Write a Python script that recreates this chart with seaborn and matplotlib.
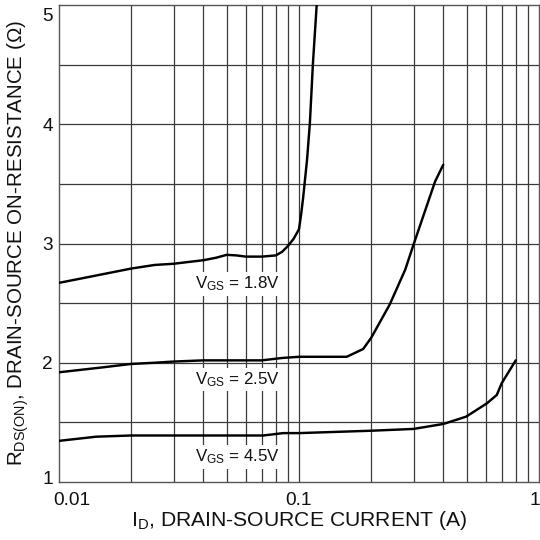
import numpy as np
import pandas as pd
import matplotlib
matplotlib.use("Agg")
import matplotlib.pyplot as plt
import matplotlib.transforms as mtransforms
import seaborn as sns

# On-resistance vs drain current for three gate voltages
id_18 = [0.01, 0.015, 0.02, 0.025, 0.03, 0.04, 0.045, 0.05, 0.055, 0.06, 0.07,
         0.08, 0.085, 0.09, 0.095, 0.1, 0.102, 0.104, 0.108, 0.111, 0.1143, 0.1185]
r_18 = [2.67, 2.74, 2.79, 2.82, 2.83, 2.86, 2.88, 2.905, 2.90, 2.89, 2.89,
        2.90, 2.93, 2.98, 3.04, 3.12, 3.24, 3.38, 3.70, 4.01, 4.51, 5.00]

id_25 = [0.01, 0.015, 0.02, 0.025, 0.03, 0.04, 0.07, 0.085, 0.1, 0.158,
         0.185, 0.2, 0.239, 0.277, 0.30, 0.369, 0.399]
r_25 = [1.92, 1.96, 1.99, 2.00, 2.01, 2.02, 2.02, 2.04, 2.05, 2.05,
        2.115, 2.21, 2.49, 2.78, 2.99, 3.52, 3.66]

id_45 = [0.01, 0.0143, 0.02, 0.071, 0.086, 0.1, 0.2, 0.3, 0.4, 0.497,
         0.607, 0.667, 0.70, 0.80]
r_45 = [1.345, 1.38, 1.39, 1.39, 1.41, 1.41, 1.43, 1.445, 1.487, 1.548,
        1.66, 1.73, 1.83, 2.02]

vgs_labels = ["1.8V", "2.5V", "4.5V"]
label_pos = [(0.0552, 2.66), (0.0552, 1.86), (0.0552, 1.21)]

x_ticks = [0.01, 0.1, 1]
x_ticklabels = ["0.01", "0.1", "1"]
y_ticks = [1, 2, 3, 4, 5]

frames = []
for lab, xs, ys in zip(vgs_labels, [id_18, id_25, id_45], [r_18, r_25, r_45]):
    frames.append(pd.DataFrame({"ID": xs, "RDS": ys, "VGS": lab}))
df = pd.concat(frames, ignore_index=True)

sns.set_theme(style="white")
plt.rcParams["font.family"] = ["Liberation Sans", "DejaVu Sans"]
plt.rcParams["mathtext.default"] = "regular"

fig = plt.figure(figsize=(5.4, 5.4), dpi=100)
ax = fig.add_axes([59 / 540, 58 / 540, 480 / 540, 477 / 540])

ax.set_xscale("log")
ax.set_xlim(0.01, 1)
ax.set_ylim(1, 5)

grid_c = "#3a3a3a"
# log grid at every 1-9 multiple of each decade
for dec in [0.01, 0.1]:
    for m in range(1, 10):
        v = dec * m
        if 0.01 < v < 1:
            ax.axvline(v, color=grid_c, lw=0.9, zorder=1)
for yv in np.arange(1.5, 5.0, 0.5):
    ax.axhline(yv, color=grid_c, lw=0.9, zorder=1)

sns.lineplot(data=df, x="ID", y="RDS", hue="VGS", units="VGS", estimator=None,
             palette=["black"] * 3, linewidth=1.75, legend=False, ax=ax, zorder=3)

for lab, (lx, ly) in zip(vgs_labels, label_pos):
    ax.text(lx, ly, "V$_{GS}$ = " + lab, ha="center", va="center", fontsize=12.2,
            color="#111111", zorder=4,
            bbox=dict(boxstyle="square,pad=0.15", fc="white", ec="none"))

for s in ax.spines.values():
    s.set_color("#555555")
    s.set_linewidth(1.0)

ax.set_xticks(x_ticks)
ax.set_xticklabels(x_ticklabels)
ax.xaxis.set_minor_locator(matplotlib.ticker.NullLocator())
ax.set_yticks(y_ticks)
ax.set_yticklabels([str(v) for v in y_ticks])
ax.tick_params(axis="both", length=0, labelsize=13.7, colors="#111111")
ax.tick_params(axis="x", pad=7)
ax.tick_params(axis="y", pad=4.5)

# keep end labels inside the canvas
def shift(label, dx, dy):
    label.set_transform(label.get_transform() +
                        mtransforms.ScaledTranslation(dx / 72, dy / 72, fig.dpi_scale_trans))

xl = ax.get_xticklabels()
shift(xl[0], 9, 0)
shift(xl[-1], -3, 0)
yl = ax.get_yticklabels()
shift(yl[0], 0, 3.5)
shift(yl[-1], 0, -7)

ax.set_xlabel("I$_{D}$, DRAIN-SOURCE CURRENT (A)", fontsize=15.2, color="#111111", labelpad=0)
ax.set_ylabel("R$_{DS(ON)}$, DRAIN-SOURCE ON-RESISTANCE (Ω)", fontsize=14.8,
              color="#111111", labelpad=8)

fig.savefig("out.png", dpi=100)
